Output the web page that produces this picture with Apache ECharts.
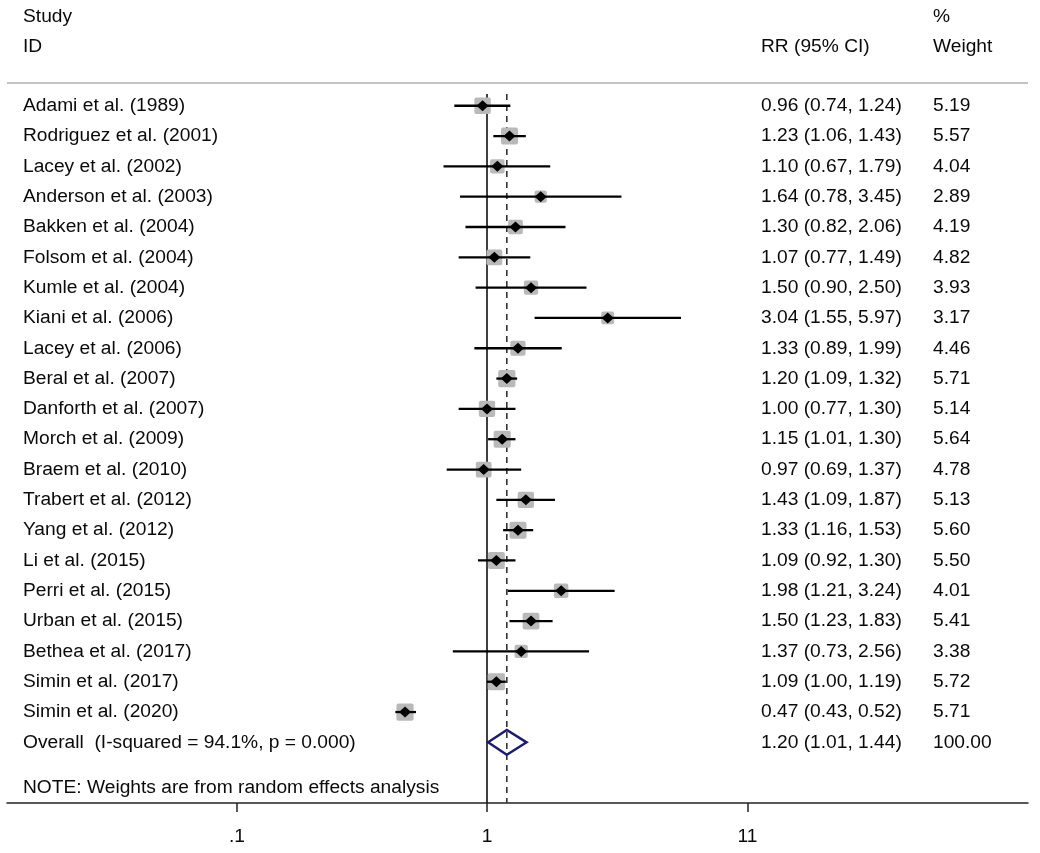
<!DOCTYPE html>
<html><head><meta charset="utf-8">
<script src="https://cdn.jsdelivr.net/npm/echarts@6/dist/echarts.min.js"></script>
<style>html,body{margin:0;padding:0;background:#fff}#c{width:1040px;height:853px}</style>
</head><body><div id="c"></div>
<script>
// ---------------- data ----------------
const studies = [
  'Adami et al. (1989)','Rodriguez et al. (2001)','Lacey et al. (2002)','Anderson et al. (2003)',
  'Bakken et al. (2004)','Folsom et al. (2004)','Kumle et al. (2004)','Kiani et al. (2006)',
  'Lacey et al. (2006)','Beral et al. (2007)','Danforth et al. (2007)','Morch et al. (2009)',
  'Braem et al. (2010)','Trabert et al. (2012)','Yang et al. (2012)','Li et al. (2015)',
  'Perri et al. (2015)','Urban et al. (2015)','Bethea et al. (2017)','Simin et al. (2017)',
  'Simin et al. (2020)'
];
const rr     = [0.96,1.23,1.10,1.64,1.30,1.07,1.50,3.04,1.33,1.20,1.00,1.15,0.97,1.43,1.33,1.09,1.98,1.50,1.37,1.09,0.47];
const ciLow  = [0.74,1.06,0.67,0.78,0.82,0.77,0.90,1.55,0.89,1.09,0.77,1.01,0.69,1.09,1.16,0.92,1.21,1.23,0.73,1.00,0.43];
const ciHigh = [1.24,1.43,1.79,3.45,2.06,1.49,2.50,5.97,1.99,1.32,1.30,1.30,1.37,1.87,1.53,1.30,3.24,1.83,2.56,1.19,0.52];
const weights= [5.19,5.57,4.04,2.89,4.19,4.82,3.93,3.17,4.46,5.71,5.14,5.64,4.78,5.13,5.60,5.50,4.01,5.41,3.38,5.72,5.71];
const overallLabel = 'Overall  (I-squared = 94.1%, p = 0.000)';
const overallRR = 1.20, overallLow = 1.01, overallHigh = 1.44, overallWeight = 100.00;
const noteText = 'NOTE: Weights are from random effects analysis';
const headerLeft = ['Study','ID'];
const headerRR = 'RR (95% CI)';
const headerWeight = ['%','Weight'];
const xTicks = [0.1, 1, 11];
const xTickLabels = ['.1','1','11'];

// ---------------- layout ----------------
const FONT = 19.2;
const FAMILY = '"Liberation Sans", Arial, sans-serif';
const TXT = '#0a0a0a';
const colStudy = 16, colRR = 754, colWeight = 926; // px offsets from grid left
const nRows = studies.length;
const rowOverall = nRows;
const rowNote = nRows + 1.5;
const rowHead1 = -2.95, rowHead2 = -1.95;
const rowSep = -0.75, rowRefTop = -0.39, rowAxis = 23;

function fmt(v){return v.toFixed(2);}

const texts = [];
texts.push({t:headerLeft[0], row:rowHead1, col:colStudy});
texts.push({t:headerLeft[1], row:rowHead2, col:colStudy});
texts.push({t:headerRR, row:rowHead2, col:colRR});
texts.push({t:headerWeight[0], row:rowHead1, col:colWeight});
texts.push({t:headerWeight[1], row:rowHead2, col:colWeight});
studies.forEach((s,i)=>{
  texts.push({t:s,row:i,col:colStudy});
  texts.push({t:fmt(rr[i])+' ('+fmt(ciLow[i])+', '+fmt(ciHigh[i])+')',row:i,col:colRR});
  texts.push({t:fmt(weights[i]),row:i,col:colWeight});
});
texts.push({t:overallLabel,row:rowOverall,col:colStudy});
texts.push({t:fmt(overallRR)+' ('+fmt(overallLow)+', '+fmt(overallHigh)+')',row:rowOverall,col:colRR});
texts.push({t:fmt(overallWeight),row:rowOverall,col:colWeight});
texts.push({t:noteText,row:rowNote,col:colStudy});

const studyData = studies.map((s,i)=>[i, rr[i], ciLow[i], ciHigh[i], weights[i]]);

const chart = echarts.init(document.getElementById('c'), null, {renderer:'canvas'});
chart.setOption({
  animation:false,
  backgroundColor:'#fff',
  grid:{left:7, right:12, top:83, bottom:50},
  xAxis:{
    type:'log', logBase:10, min:0.01202, max:145.9, position:'bottom',
    axisLine:{show:true, onZero:false, lineStyle:{color:'#222', width:1.5}},
    axisTick:{show:true, customValues:xTicks, length:9, lineStyle:{color:'#222', width:1.5}},
    axisLabel:{show:true, customValues:xTicks, margin:24, fontSize:FONT, fontFamily:FAMILY, color:TXT,
      formatter:(v)=>{const k=xTicks.findIndex(t=>Math.abs(t-v)<1e-6*Math.max(1,t)); return k>=0?xTickLabels[k]:'';}},
    splitLine:{show:false}, minorTick:{show:false}
  },
  yAxis:{type:'value', inverse:true, min:rowSep, max:rowAxis, show:false},
  series:[
    {
      type:'custom', clip:false, silent:true, z:1,
      data:[[1, 0],[overallRR, 1],[1, 2]],
      encode:{x:0, y:1},
      renderItem:(params, api)=>{
        const cs = params.coordSys;
        const idx = params.dataIndex;
        if(idx===2){
          const y = api.coord([1,rowSep])[1];
          return {type:'line', shape:{x1:cs.x, y1:y, x2:cs.x+cs.width, y2:y}, style:{stroke:'#c4c4c4', lineWidth:2}};
        }
        const v = api.value(0);
        const p1 = api.coord([v,rowRefTop]), p2 = api.coord([v,rowAxis]);
        return {type:'line', shape:{x1:p1[0], y1:p1[1], x2:p2[0], y2:p2[1]},
          style: idx===0 ? {stroke:'#111', lineWidth:1.6} : {stroke:'#333', lineWidth:1.6, lineDash:[6,5]}};
      }
    },
    {
      type:'custom', clip:false, silent:true, z:2,
      data:studyData,
      encode:{x:[1,2,3], y:0},
      renderItem:(params, api)=>{
        const i=api.value(0), est=api.value(1), lo=api.value(2), hi=api.value(3), w=api.value(4);
        const p=api.coord([est,i]), pl=api.coord([lo,i]), ph=api.coord([hi,i]);
        const side = 7.2*Math.sqrt(w);
        return {type:'group', children:[
          {type:'rect', shape:{x:p[0]-side/2, y:p[1]-side/2, width:side, height:side, r:2}, style:{fill:'#b9b9b9'}},
          {type:'line', shape:{x1:pl[0], y1:pl[1], x2:ph[0], y2:ph[1]}, style:{stroke:'#000', lineWidth:2.3}},
          {type:'polygon', shape:{points:[[p[0]-6,p[1]],[p[0],p[1]-5.5],[p[0]+6,p[1]],[p[0],p[1]+5.5]]}, style:{fill:'#000'}}
        ]};
      }
    },
    {
      type:'custom', clip:false, silent:true, z:3,
      data:[[rowOverall, overallRR, overallLow, overallHigh]],
      encode:{x:[1,2,3], y:0},
      renderItem:(params, api)=>{
        const r=api.value(0);
        const pl=api.coord([api.value(2),r]), ph=api.coord([api.value(3),r]);
        const pt=api.coord([api.value(1),r-0.41]), pb=api.coord([api.value(1),r+0.41]);
        return {type:'polygon', shape:{points:[pl,pt,ph,pb]}, style:{fill:'none', stroke:'#1c1c6e', lineWidth:2.4}};
      }
    },
    {
      type:'custom', clip:false, silent:true, z:4,
      data:texts.map(o=>[1, o.row]),
      encode:{x:0, y:1},
      renderItem:(params, api)=>{
        const o = texts[params.dataIndex];
        const y = api.coord([1, o.row])[1];
        return {type:'text', x:params.coordSys.x + o.col, y:y,
          style:{text:o.t, fill:TXT, font:FONT+'px '+FAMILY, textAlign:'left', textVerticalAlign:'middle'}};
      }
    }
  ]
});
</script>
</body></html>
